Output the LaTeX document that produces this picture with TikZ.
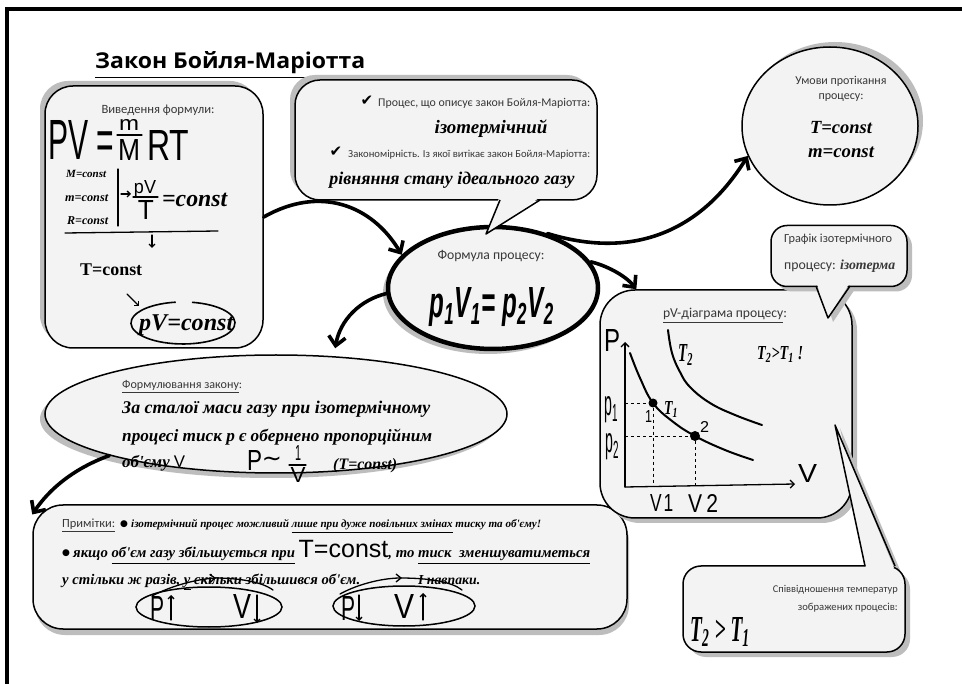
\documentclass[tikz,border=0pt]{standalone}
\usepackage{graphicx}
\usepackage{fontspec}
\setmainfont{Carlito}
\newfontfamily\ttlfont{Open Sans}
\newfontfamily\handfont{Liberation Serif}
\newfontfamily\mkfont{Liberation Sans}
\newfontfamily\symfont{DejaVu Sans}
\usetikzlibrary{shapes.geometric,arrows.meta,shadows}
\definecolor{boxfill}{HTML}{F3F3F3}
\definecolor{shadowgray}{HTML}{BDBDBD}
\definecolor{labgray}{HTML}{383838}
\newcommand\hw{\handfont\bfseries\itshape}
\newcommand\fs[1]{\fontsize{#1}{#1}\selectfont}
\newcommand\rw[2]{\resizebox{#1pt}{!}{#2}}
\newcommand\rwh[3]{\resizebox{#1pt}{#2pt}{#3}}
\tikzset{
 panel/.style={draw=black, fill=boxfill, line width=1.5pt},
 lab/.style={font=\fs{12}, text=labgray, inner sep=0},
 hwt/.style={font=\hw, inner sep=0, anchor=base west},
 hwc/.style={font=\hw, inner sep=0, anchor=base},
 mkt/.style={font=\mkfont, inner sep=0, anchor=base west},
 mkc/.style={font=\mkfont, inner sep=0, anchor=base},
 bigarrow/.style={line width=3.6pt, line cap=round, -{Straight Barb[length=9pt,width=17pt]}},
 penline/.style={line width=1.3pt, line cap=round},
 smallarrow/.style={penline, -{Straight Barb[length=3pt,width=6pt]}},
 isoline/.style={line width=2pt, line cap=round},
 tailline/.style={line width=1.5pt, line join=round},
 shTL/.style={drop shadow={shadow xshift=-5pt,shadow yshift=5pt,fill=shadowgray,opacity=1}},
 shTR/.style={drop shadow={shadow xshift=5pt,shadow yshift=5pt,fill=shadowgray,opacity=1}},
 shBL/.style={drop shadow={shadow xshift=-5pt,shadow yshift=-5pt,fill=shadowgray,opacity=1}},
 shBR/.style={drop shadow={shadow xshift=5pt,shadow yshift=-5pt,fill=shadowgray,opacity=1}},
 shB/.style={drop shadow={shadow xshift=2pt,shadow yshift=-6pt,fill=shadowgray,opacity=1}},
 sym/.style={font=\symfont, inner sep=0},
}
\begin{document}
\begin{tikzpicture}[x=1pt,y=-1pt]
\useasboundingbox (0,0) rectangle (962,684);
\fill[white] (0,0) rectangle (962,684);
% frame
\draw[line width=4pt] (5,9) -- (962,9);
\draw[line width=4pt] (7,9) -- (7,684);

% title
\node[anchor=base west, font=\ttlfont\bfseries, inner sep=0] (title) at (95,69) {\rwh{270}{17}{\underline{Закон Бойля-Маріотта}}};

% ---------- derivation box
\node[panel, rounded corners=28, minimum width=218, minimum height=262, shTL] (deriv) at (154,217) {};
\node[lab, anchor=base] (derivT) at (158,114) {\rw{113}{Виведення формули:}};
\node[mkt] (pv) at (48,160) {\rwh{66}{39}{PV =}};
\node[mkc] (mm) at (129,131) {\rwh{20}{11}{m}};
\draw[penline] (117,135) -- (142,135);
\node[mkc] (MM) at (129,161) {\rwh{22}{21}{M}};
\node[mkt] (RT) at (147,161) {\rwh{42}{30}{RT}};
\node[hwt] (c1) at (66,178) {\rw{40}{M=const}};
\node[hwt] (c2) at (65,202) {\rw{43}{m=const}};
\node[hwt] (c3) at (67,225) {\rw{41}{R=const}};
\draw[penline] (118,169) -- (118,226);
\draw[smallarrow] (121,194) -- (131,194);
\node[mkc] (pvn) at (145,194) {\rwh{22}{13}{pV}};
\draw[penline] (133,197) -- (158,197);
\node[mkc] (tt) at (146,220) {\rwh{16}{19}{T}};
\node[hwt] (eqc) at (162,207) {\rw{65}{=const}};
\draw[penline] (65,233) -- (218,231);
\draw[smallarrow] (152,235) -- (152,248);
\node[hwt] (tc) at (80,276) {\rw{62}{\upshape T=const}};
\draw[smallarrow] (127,294) -- (139,306);
\draw[line width=1.6pt] (192,302.3) arc[start angle=-80, end angle=262, x radius=52, y radius=21];
\node[hwt] (pvc) at (139,331) {\rw{94}{pV=const}};

% ---------- formula ellipse
\node[panel, ellipse, line width=4.5pt, minimum width=210, minimum height=122, inner sep=0, shBL] (formula) at (493,288) {};
\node[lab, anchor=base] (fl) at (491,260) {\rw{107}{Формула процесу:}};
\node[mkc] (feq) at (492,318) {\rwh{125}{30}{\bfseries\itshape p\textsubscript{1}V\textsubscript{1}= p\textsubscript{2}V\textsubscript{2}}};

% ---------- process bubble
\node[panel, rounded corners=25, minimum width=302, minimum height=120, shTL] (proc) at (446,140) {};
\coordinate (ptip) at (486,234);
\fill[boxfill] (499,198) -- (ptip) -- (539,198) -- cycle;
\draw[tailline] (500,200) -- (ptip) -- (540,200);
\node[sym, font=\symfont\fs{15}] (ck1) at (367,101) {✔};
\node[lab, anchor=base west] (pr1) at (378,107) {\rw{212}{Процес, що описує закон Бойля-Маріотта:}};
\node[hwc] (iso) at (491,134) {\rw{113}{ізотермічний}};
\node[sym, font=\symfont\fs{15}] (ck2) at (336,152) {✔};
\node[lab, anchor=base west] (pr2) at (348,158) {\rw{242}{Закономірність. Із якої витікає закон Бойля-Маріотта:}};
\node[hwc] (ur) at (452,185) {\rw{245}{рівняння стану ідеального газу}};

% ---------- conditions ellipse
\node[panel, ellipse, minimum width=176, minimum height=158, inner sep=0, shTR] (cond) at (830,126) {};
\node[lab, anchor=base] (cd1) at (841,85) {Умови протікання};
\node[lab, anchor=base] (cd2) at (841,100) {процесу:};
\node[hwc] (cd3) at (841,134) {\rw{62}{T=const}};
\node[hwc] (cd4) at (841,158) {\rw{66}{m=const}};

% ---------- formulation ellipse
\node[panel, ellipse, minimum width=462, minimum height=118, inner sep=0, shBL] (form2) at (276,414) {};
\node[lab, anchor=base west] (fz) at (122,389) {\rw{120}{\underline{Формулювання закону}:}};
\node[hwt] (fz1) at (122,414) {\rw{308}{За сталої маси газу при ізотермічному}};
\node[hwt] (fz2) at (122,442) {\rw{310}{процесі тиск p є обернено пропорційним}};
\node[hwt] (fz3) at (122,468) {\rw{63}{об'єму {\mkfont\mdseries\upshape V}}};
\node[mkt] (fP) at (247,471) {\rwh{15}{20}{P}};
\node[sym, font=\symfont\fs{24}] (ftl) at (272,462) {∼};
\node[mkc] (f1) at (298,461) {\rwh{6}{15}{1}};
\draw[penline] (289,465) -- (306,465);
\node[mkc] (fV) at (298,483) {\rwh{15}{15}{V}};
\node[hwt] (fTc) at (333,470) {\rw{64}{(T=const)}};

% ---------- notes box
\node[panel, rounded corners=30, minimum width=594, minimum height=124, shB] (notes) at (330,567) {};
\node[lab, anchor=base west] (nt) at (62,528) {\rw{53}{\underline{Примітки:}}};
\node[sym, font=\symfont\fs{9}] (b1) at (124,524) {●};
\node[hwt] (n1) at (131,528) {\rw{410}{ізотермічний процес можливий \underline{лише при дуже повільних змінах} тиску та об'єму!}};
\node[sym, font=\symfont\fs{9}] (b2) at (66,553) {●};
\node[hwt] (n2) at (73,558) {\rw{517}{якщо \underline{об'єм газу збільшується при} {\mkfont\mdseries\upshape\fs{17}T=const}, то \underline{тиск\ \ зменшуватиметься}}};
\node[hwt] (n3) at (62,584) {\rw{298}{у стільки ж разів, \underline{у} скільки збільшився об'єм.}};
\node[hwt] (n4) at (418,584) {\rw{62}{І навпаки.}};
\draw[line width=1.5pt] (209,607) ellipse[x radius=73, y radius=20];
\draw[line width=1.5pt] (404,606) ellipse[x radius=71, y radius=20];
\node[mkt] (pu) at (150,620) {\rwh{14}{24}{P}};
\draw[smallarrow] (171,620) -- (171,595);
\node[mkt] (vd) at (233,619) {\rwh{18}{24}{V}};
\draw[smallarrow] (257,595) -- (257,623);
\node[mkt] (pd) at (341,620) {\rwh{14}{24}{P}};
\draw[smallarrow] (359,595) -- (359,621);
\node[mkt] (vu) at (394,619) {\rwh{20}{24}{V}};
\draw[smallarrow] (423,620) -- (423,593);
\draw[penline, -{Straight Barb[length=5pt,width=8pt]}] (152,596) .. controls (175,584) and (200,579) .. (216,578);
\draw[penline] (214,578) .. controls (240,578) and (262,582) .. (273,590);
\draw[penline, -{Straight Barb[length=5pt,width=8pt]}] (340,594) .. controls (360,583) and (385,578) .. (402,578);
\draw[penline] (400,578) .. controls (430,578) and (452,582) .. (462,590);

% ---------- pV diagram box
\node[panel, rounded corners=35, minimum width=252, minimum height=228, shBR] (pvbox) at (726,404) {};
\node[lab, anchor=base] (pvt) at (725,318) {\rw{124}{\underline{pV-діаграма процесу}:}};
\coordinate (O) at (625,487);
\coordinate (Ptop) at (625,342);
\coordinate (Vend) at (795,484);
\draw[penline, -{Straight Barb[length=4pt,width=8pt]}] (O) -- (Ptop);
\draw[penline, -{Straight Barb[length=4pt,width=8pt]}] (O) -- (Vend);
\node[mkt] (Pl) at (604,352) {\rwh{16}{22}{P}};
\node[mkt] (Vl) at (798,483) {\rwh{19}{18}{V}};
\draw[isoline] plot[smooth, tension=0.7] coordinates {(630,353) (640,378) (653,403) (672,421) (695,436) (725,450) (753,460)};
\draw[isoline] plot[smooth, tension=0.7] coordinates {(668,330) (672,353) (680,372) (690,387) (710,403) (735,415) (762,425)};
\node[circle, fill=black, inner sep=0, minimum size=9] (pt1) at (653,403) {};
\node[circle, fill=black, inner sep=0, minimum size=10] (pt2) at (695,436) {};
\draw[dashed, line width=0.9pt] (O |- pt1) -- (pt1);
\draw[dashed, line width=0.9pt] (pt1) -- (pt1 |- O);
\draw[dashed, line width=0.9pt] (O |- pt2) -- (pt2);
\draw[dashed, line width=0.9pt] (pt2) -- (pt2 |- O);
\node[hwt] (T2l) at (678,362) {\rwh{15}{17}{T\textsubscript{2}}};
\node[hwt] (T21) at (757,360) {\rwh{46}{13}{T\textsubscript{2}>T\textsubscript{1} !}};
\node[hwt] (T1l) at (664,415) {\rwh{14}{13}{T\textsubscript{1}}};
\node[mkt] (n1l) at (645,423) {\rwh{7}{12}{1}};
\node[mkt] (n2l) at (700,433) {\rwh{9}{11}{2}};
\node[mkt] (p1l) at (604,416) {\rwh{14}{19}{p\textsubscript{1}}};
\node[mkt] (p2l) at (605,453) {\rwh{14}{19}{p\textsubscript{2}}};
\node[mkt] (v1l) at (650,512) {\rwh{23}{17}{V\kern1pt1}};
\node[mkt] (v2l) at (688,513) {\rwh{30}{18}{V\kern2pt2}};

% ---------- graph callout
\fill[shadowgray] (822,289) -- (833,322) -- (855,289) -- cycle;
\node[panel, rounded corners=16, minimum width=136, minimum height=61, shBR] (gcall) at (839,256) {};
\coordinate (gtip) at (828,318);
\fill[boxfill] (817,284) -- (gtip) -- (849,284) -- cycle;
\draw[tailline] (816,286) -- (gtip) -- (850,286);
\node[lab, anchor=base west] (g1) at (784,243) {\rw{108}{Графік ізотермічного}};
\node[lab, anchor=base west] (g2) at (784,270) {\rw{111}{процесу: {\hw ізотерма}}};

% ---------- temperature callout
\fill[shadowgray] (871,570) -- (840,428) -- (900,570) -- cycle;
\node[panel, rounded corners=18, minimum width=222, minimum height=86, shBR] (tcall) at (794,609) {};
\coordinate (ttip) at (835,425);
\fill[boxfill] (866,568) -- (ttip) -- (894,568) -- cycle;
\draw[tailline] (865,566) -- (ttip) -- (895,566);
\node[lab, anchor=base east] (tc1) at (898,593) {\rw{125}{Співвідношення температур}};
\node[lab, anchor=base east] (tc2) at (898,610) {\rw{100}{зображених процесів:}};
\node[hwt] (tc3) at (690,641) {\rwh{60}{24}{T\textsubscript{2} > T\textsubscript{1}}};

% ---------- arrows
\draw[bigarrow] (deriv.east) .. controls (320,185) and (372,205) .. (formula.160);
\draw[bigarrow] (formula.45) .. controls (640,262) and (705,225) .. (cond.200);
\draw[bigarrow] (formula.15) .. controls (605,265) and (625,275) .. (pvbox.128);
\draw[bigarrow, shorten >=8pt] (formula.183) .. controls (360,300) and (340,320) .. (form2.45);
\draw[bigarrow] (form2.194) .. controls (75,468) and (50,488) .. (notes.170);
\end{tikzpicture}
\end{document}
